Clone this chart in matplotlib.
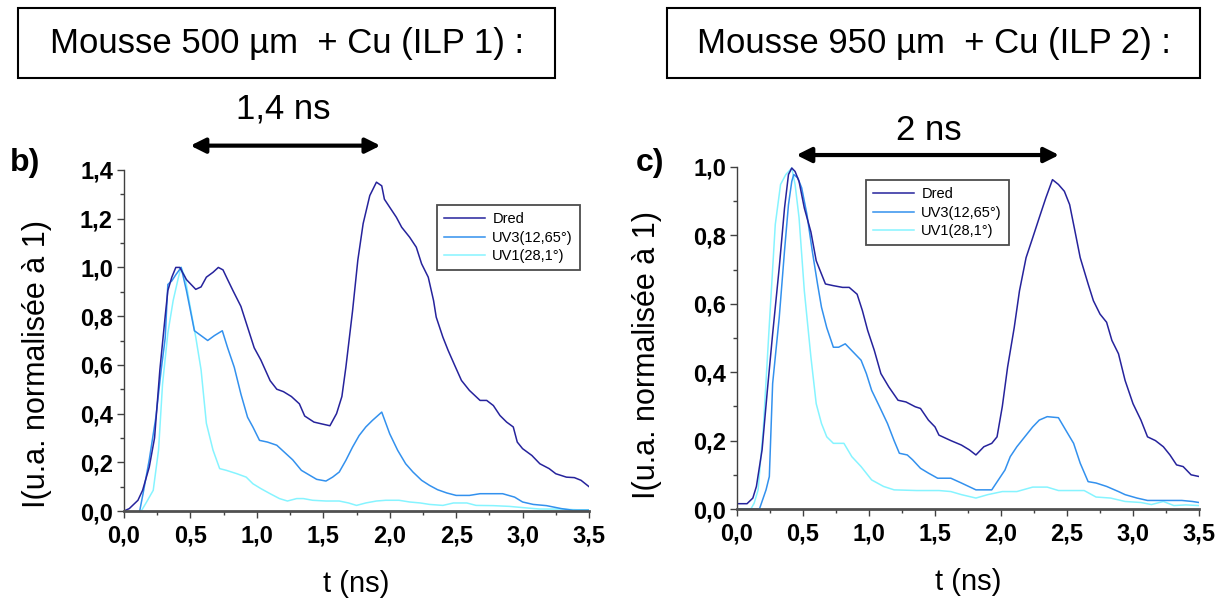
import matplotlib
matplotlib.use("Agg")
import matplotlib.pyplot as plt
import matplotlib.ticker as ticker
from matplotlib.patches import Rectangle

# ---- data ---------------------------------------------------------------
# panel b) : foam 500 um + Cu (ILP 1)
b_dred_t = [0.0, 0.04, 0.105, 0.14, 0.19, 0.23, 0.27, 0.31, 0.33, 0.36, 0.39, 0.42, 0.47, 0.54,
            0.58, 0.62, 0.67, 0.71, 0.745, 0.78, 0.82, 0.88, 0.93, 0.98, 1.03, 1.10, 1.15, 1.20,
            1.26, 1.32, 1.36, 1.43, 1.485, 1.55, 1.60, 1.64, 1.67, 1.72, 1.76, 1.80, 1.85, 1.90,
            1.94, 1.96, 2.0, 2.05, 2.09, 2.15, 2.20, 2.24, 2.29, 2.33, 2.35, 2.40, 2.44, 2.49,
            2.54, 2.60, 2.68, 2.73, 2.78, 2.83, 2.88, 2.93, 2.96, 3.0, 3.07, 3.13, 3.20, 3.25,
            3.33, 3.39, 3.44, 3.5]
b_dred_i = [0.0, 0.01, 0.044, 0.085, 0.18, 0.30, 0.58, 0.80, 0.905, 0.96, 1.0, 1.0, 0.95, 0.91,
            0.92, 0.96, 0.98, 1.0, 0.99, 0.95, 0.905, 0.84, 0.755, 0.67, 0.62, 0.535, 0.50, 0.49,
            0.47, 0.44, 0.39, 0.365, 0.358, 0.35, 0.40, 0.47, 0.59, 0.82, 1.03, 1.18, 1.295, 1.35,
            1.335, 1.28, 1.247, 1.206, 1.165, 1.124, 1.083, 1.015, 0.96, 0.864, 0.796, 0.714,
            0.659, 0.597, 0.536, 0.495, 0.454, 0.454, 0.433, 0.392, 0.365, 0.345, 0.283, 0.256,
            0.228, 0.194, 0.174, 0.153, 0.139, 0.137, 0.126, 0.10]

b_uv3_t = [0.118, 0.143, 0.19, 0.24, 0.28, 0.31, 0.33, 0.36, 0.39, 0.43, 0.47, 0.53, 0.58, 0.63,
           0.68, 0.74, 0.78, 0.83, 0.88, 0.93, 0.97, 1.02, 1.08, 1.15, 1.22, 1.27, 1.335, 1.40,
           1.45, 1.52, 1.57, 1.62, 1.67, 1.72, 1.77, 1.82, 1.87, 1.94, 2.0, 2.06, 2.12, 2.175,
           2.24, 2.30, 2.36, 2.43, 2.50, 2.60, 2.68, 2.76, 2.85, 2.94, 3.0, 3.08, 3.18, 3.29,
           3.38, 3.5]
b_uv3_i = [0.0, 0.07, 0.21, 0.385, 0.58, 0.71, 0.93, 0.945, 0.97, 1.0, 0.905, 0.74, 0.72, 0.70,
           0.72, 0.74, 0.67, 0.59, 0.48, 0.385, 0.345, 0.29, 0.283, 0.27, 0.235, 0.21, 0.167,
           0.146, 0.13, 0.123, 0.139, 0.16, 0.208, 0.262, 0.31, 0.345, 0.372, 0.406, 0.317,
           0.249, 0.194, 0.16, 0.126, 0.105, 0.0875, 0.074, 0.064, 0.064, 0.071, 0.071, 0.071,
           0.057, 0.037, 0.027, 0.022, 0.01, 0.003, 0.003]

b_uv1_t = [0.13, 0.17, 0.22, 0.26, 0.29, 0.33, 0.37, 0.41, 0.43, 0.46, 0.49, 0.54, 0.58, 0.62,
           0.67, 0.72, 0.77, 0.85, 0.92, 0.97, 1.03, 1.10, 1.17, 1.23, 1.30, 1.35, 1.42, 1.52,
           1.62, 1.69, 1.75, 1.82, 1.90, 1.97, 2.07, 2.15, 2.23, 2.30, 2.40, 2.48, 2.58, 2.65,
           2.78, 2.90, 3.0, 3.13, 3.28, 3.41, 3.5]
b_uv1_i = [0.0, 0.037, 0.085, 0.25, 0.52, 0.73, 0.864, 0.96, 1.0, 0.96, 0.864, 0.714, 0.58, 0.36,
           0.25, 0.174, 0.167, 0.153, 0.139, 0.112, 0.092, 0.071, 0.051, 0.041, 0.051, 0.051,
           0.044, 0.041, 0.041, 0.033, 0.023, 0.033, 0.041, 0.044, 0.044, 0.037, 0.033, 0.027,
           0.023, 0.033, 0.033, 0.023, 0.022, 0.019, 0.014, 0.008, 0.008, 0.005, 0.005]

# panel c) : foam 950 um + Cu (ILP 2)
c_dred_t = [0.0, 0.076, 0.12, 0.147, 0.19, 0.23, 0.27, 0.32, 0.36, 0.39, 0.415, 0.44, 0.47, 0.51,
            0.56, 0.60, 0.64, 0.67, 0.73, 0.80, 0.85, 0.91, 0.95, 0.99, 1.04, 1.09, 1.15, 1.22,
            1.28, 1.35, 1.39, 1.45, 1.50, 1.53, 1.62, 1.70, 1.76, 1.81, 1.87, 1.93, 1.97, 2.01,
            2.05, 2.10, 2.14, 2.19, 2.24, 2.29, 2.34, 2.39, 2.435, 2.48, 2.52, 2.56, 2.60, 2.66,
            2.70, 2.75, 2.80, 2.84, 2.89, 2.94, 3.0, 3.06, 3.11, 3.17, 3.23, 3.28, 3.33, 3.38,
            3.44, 3.5]
c_dred_i = [0.0155, 0.0155, 0.032, 0.066, 0.173, 0.347, 0.512, 0.706, 0.88, 0.978, 0.997, 0.987,
            0.958, 0.88, 0.81, 0.726, 0.687, 0.658, 0.653, 0.648, 0.648, 0.628, 0.58, 0.522,
            0.464, 0.396, 0.357, 0.318, 0.313, 0.299, 0.294, 0.26, 0.24, 0.216, 0.20, 0.187,
            0.173, 0.158, 0.182, 0.192, 0.211, 0.30, 0.415, 0.53, 0.638, 0.735, 0.793, 0.852,
            0.91, 0.963, 0.949, 0.929, 0.89, 0.813, 0.735, 0.658, 0.609, 0.57, 0.546, 0.493,
            0.454, 0.376, 0.308, 0.26, 0.211, 0.20, 0.182, 0.158, 0.129, 0.124, 0.10, 0.095]

c_uv3_t = [0.0, 0.14, 0.17, 0.22, 0.245, 0.27, 0.32, 0.36, 0.39, 0.415, 0.43, 0.46, 0.49, 0.53,
           0.57, 0.61, 0.64, 0.68, 0.73, 0.77, 0.82, 0.88, 0.94, 0.98, 1.02, 1.08, 1.14, 1.19,
           1.23, 1.29, 1.33, 1.39, 1.45, 1.52, 1.62, 1.70, 1.81, 1.93, 1.98, 2.03, 2.07, 2.12,
           2.18, 2.24, 2.29, 2.35, 2.435, 2.49, 2.55, 2.60, 2.66, 2.72, 2.80, 2.89, 2.94, 3.03,
           3.11, 3.23, 3.37, 3.45, 3.5]
c_uv3_i = [0.0, 0.0, 0.0, 0.056, 0.095, 0.367, 0.56, 0.755, 0.89, 0.958, 0.978, 0.968, 0.939,
           0.861, 0.755, 0.658, 0.59, 0.53, 0.473, 0.473, 0.483, 0.459, 0.435, 0.396, 0.347,
           0.299, 0.25, 0.20, 0.163, 0.158, 0.144, 0.119, 0.105, 0.09, 0.09, 0.076, 0.056,
           0.056, 0.085, 0.114, 0.153, 0.182, 0.211, 0.24, 0.26, 0.27, 0.267, 0.231, 0.192,
           0.134, 0.08, 0.076, 0.066, 0.051, 0.042, 0.032, 0.025, 0.025, 0.025, 0.022, 0.019]

c_uv1_t = [0.105, 0.13, 0.16, 0.20, 0.245, 0.29, 0.33, 0.37, 0.415, 0.44, 0.47, 0.51, 0.56, 0.60,
           0.64, 0.68, 0.73, 0.81, 0.87, 0.94, 1.02, 1.11, 1.19, 1.36, 1.53, 1.62, 1.70, 1.81,
           1.90, 2.01, 2.12, 2.24, 2.35, 2.435, 2.63, 2.72, 2.83, 2.94, 3.06, 3.14, 3.23, 3.31,
           3.40, 3.5]
c_uv1_i = [0.0, 0.017, 0.056, 0.24, 0.54, 0.832, 0.949, 0.978, 0.997, 0.949, 0.852, 0.638, 0.444,
           0.308, 0.25, 0.211, 0.192, 0.192, 0.153, 0.124, 0.085, 0.066, 0.056, 0.054, 0.054,
           0.051, 0.042, 0.032, 0.042, 0.051, 0.051, 0.064, 0.064, 0.054, 0.054, 0.035, 0.032,
           0.022, 0.019, 0.013, 0.022, 0.01, 0.012, 0.01]

SERIES_NAMES = ["Dred", "UV3(12,65°)", "UV1(28,1°)"]
SERIES_COLORS = ["#26239c", "#3391ee", "#86f4ff"]

W, H = 1227, 601


def px(x, y):
    """pixel position (from top-left) -> figure fraction"""
    return x / W, 1 - y / H


def comma_fmt(v, _):
    return f"{v:.1f}".replace(".", ",")


plt.rcParams["font.family"] = ["Liberation Sans", "DejaVu Sans"]

fig = plt.figure(figsize=(W / 100, H / 100), dpi=100)

ax_b = fig.add_axes([124 / W, 1 - 511 / H, 465 / W, 341 / H])
ax_c = fig.add_axes([737 / W, 1 - 509 / H, 462 / W, 342 / H])

# axes, curves, y max, legend anchor, y-label position (axes coords)
panels = [
    (ax_b, [(b_dred_t, b_dred_i), (b_uv3_t, b_uv3_i), (b_uv1_t, b_uv1_i)], 1.4,
     (0.673, 0.897), (-0.155, 0.43)),
    (ax_c, [(c_dred_t, c_dred_i), (c_uv3_t, c_uv3_i), (c_uv1_t, c_uv1_i)], 1.0,
     (0.279, 0.962), (-0.163, 0.45)),
]

for ax, curves, ymax, leg_pos, ylab_pos in panels:
    # draw light curves first so Dred stays on top
    for (t, i), name, color in reversed(list(zip(curves, SERIES_NAMES, SERIES_COLORS))):
        ax.plot(t, i, color=color, lw=1.1, label=name)
    ax.set_xlim(0, 3.5)
    ax.set_ylim(0, ymax)
    ax.xaxis.set_major_locator(ticker.MultipleLocator(0.5))
    ax.xaxis.set_minor_locator(ticker.MultipleLocator(0.25))
    ax.yaxis.set_major_locator(ticker.MultipleLocator(0.2))
    ax.yaxis.set_minor_locator(ticker.MultipleLocator(0.1))
    ax.xaxis.set_major_formatter(ticker.FuncFormatter(comma_fmt))
    ax.yaxis.set_major_formatter(ticker.FuncFormatter(comma_fmt))
    for side in ("top", "right"):
        ax.spines[side].set_visible(False)
    ax.spines["bottom"].set_linewidth(2.0)
    ax.spines["bottom"].set_color("#505050")
    ax.spines["left"].set_linewidth(1.0)
    ax.spines["left"].set_color("#404040")
    ax.tick_params(which="major", direction="out", length=5, width=1, color="#404040",
                   labelsize=17, pad=3)
    ax.tick_params(which="minor", direction="out", length=3, width=1, color="#404040")
    ax.tick_params(axis="x", which="major", pad=5)
    for lab in ax.get_xticklabels() + ax.get_yticklabels():
        lab.set_fontweight("bold")
    ax.set_xlabel("t (ns)", fontsize=21, labelpad=16)
    ax.set_ylabel("I(u.a. normalisée à 1)", fontsize=22)
    ax.yaxis.set_label_coords(*ylab_pos)

    handles, labels = ax.get_legend_handles_labels()
    leg = ax.legend(handles[::-1], labels[::-1], loc="upper left", bbox_to_anchor=leg_pos,
                    fontsize=10.5, frameon=True, fancybox=False, handlelength=2.8,
                    handletextpad=0.5, labelspacing=0.3, borderpad=0.5, borderaxespad=0)
    leg.get_frame().set_edgecolor("#202020")
    leg.get_frame().set_linewidth(1.3)

# peak-to-peak arrows
ax_b.annotate("", xy=(0.50, 1.50), xytext=(1.93, 1.50), xycoords="data",
              arrowprops=dict(arrowstyle="<|-|>", lw=3, color="black", mutation_scale=22,
                              shrinkA=0, shrinkB=0), annotation_clip=False)
ax_b.text(1.20, 1.65, "1,4 ns", ha="center", va="center", fontsize=25, clip_on=False)
ax_c.annotate("", xy=(0.45, 1.035), xytext=(2.44, 1.035), xycoords="data",
              arrowprops=dict(arrowstyle="<|-|>", lw=3, color="black", mutation_scale=22,
                              shrinkA=0, shrinkB=0), annotation_clip=False)
ax_c.text(1.45, 1.108, "2 ns", ha="center", va="center", fontsize=25, clip_on=False)

# panel letters
fig.text(*px(25, 163), "b)", fontsize=23, fontweight="bold", ha="center", va="center")
fig.text(*px(650, 163), "c)", fontsize=23, fontweight="bold", ha="center", va="center")

# boxed headings
for (x0, x1, text) in [(18, 555, "Mousse 500 µm  + Cu (ILP 1) :"),
                       (667, 1200, "Mousse 950 µm  + Cu (ILP 2) :")]:
    fig.patches.append(Rectangle(px(x0, 78), (x1 - x0) / W, 70 / H, transform=fig.transFigure,
                                 fill=False, edgecolor="black", lw=1.5))
    fig.text(*px((x0 + x1) / 2, 44), text, fontsize=25, ha="center", va="center")

fig.savefig("out.png", dpi=100)
